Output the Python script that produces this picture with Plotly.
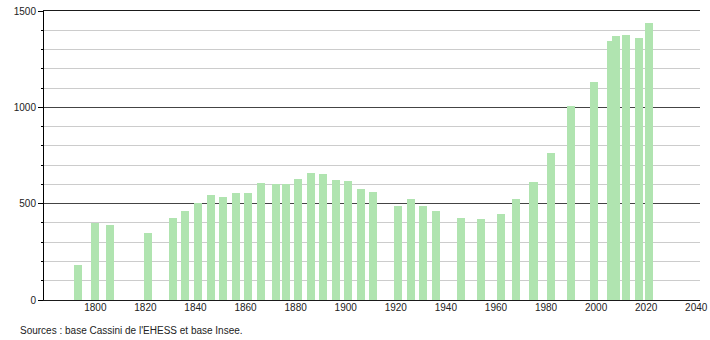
import plotly.graph_objects as go

years = [1793, 1800, 1806, 1821, 1831, 1836, 1841, 1846, 1851, 1856, 1861, 1866,
         1872, 1876, 1881, 1886, 1891, 1896, 1901, 1906, 1911, 1921, 1926, 1931,
         1936, 1946, 1954, 1962, 1968, 1975, 1982, 1990, 1999, 2006, 2008, 2012,
         2017, 2021]
population = [182, 398, 389, 349, 427, 463, 506, 547, 534, 557, 557, 605,
              604, 602, 630, 661, 654, 623, 618, 576, 562, 488, 523, 488,
              462, 427, 420, 446, 523, 612, 763, 1007, 1131, 1344, 1370, 1375,
              1361, 1436]
x_ticks = [1800, 1820, 1840, 1860, 1880, 1900, 1920, 1940, 1960, 1980, 2000, 2020, 2040]
y_ticks = [0, 500, 1000, 1500]
source_text = "Sources : base Cassini de l'EHESS et base Insee."

fig = go.Figure()
fig.add_trace(go.Bar(
    x=years, y=population, width=3.2,
    marker=dict(color="#b0e4b0", line=dict(width=0)),
    hoverinfo="x+y",
))

font = dict(family="Liberation Sans, Arial, sans-serif", size=10, color="#222")

fig.update_layout(
    width=710, height=340,
    margin=dict(l=44, r=10, t=11, b=40),
    paper_bgcolor="white", plot_bgcolor="white",
    showlegend=False,
    font=font,
    bargap=0,
    xaxis=dict(
        range=[1779.5, 2041.5],
        tickvals=x_ticks,
        ticktext=[str(v) for v in x_ticks],
        showgrid=False, zeroline=False,
        showline=True, mirror=True, linecolor="#1a1a1a", linewidth=1,
        ticks="", tickfont=font, automargin=False,
        ticklabelstandoff=-2,
    ),
    yaxis=dict(
        range=[0, 1500],
        tickvals=y_ticks,
        showgrid=True, gridcolor="#444", gridwidth=1,
        zeroline=False,
        showline=True, linecolor="#000", linewidth=1,
        ticks="outside", ticklen=5, tickcolor="#000", tickwidth=1,
        tickfont=font, automargin=False,
        minor=dict(dtick=100, tick0=0, showgrid=True, gridcolor="#cccccc",
                   gridwidth=1, ticks="outside", ticklen=2, tickcolor="#000"),
    ),
)

fig.add_annotation(
    text=source_text, xref="paper", yref="paper",
    x=-0.0396, y=-0.107, xanchor="left", yanchor="middle",
    showarrow=False, font=font,
)

fig.write_html("out.html")
